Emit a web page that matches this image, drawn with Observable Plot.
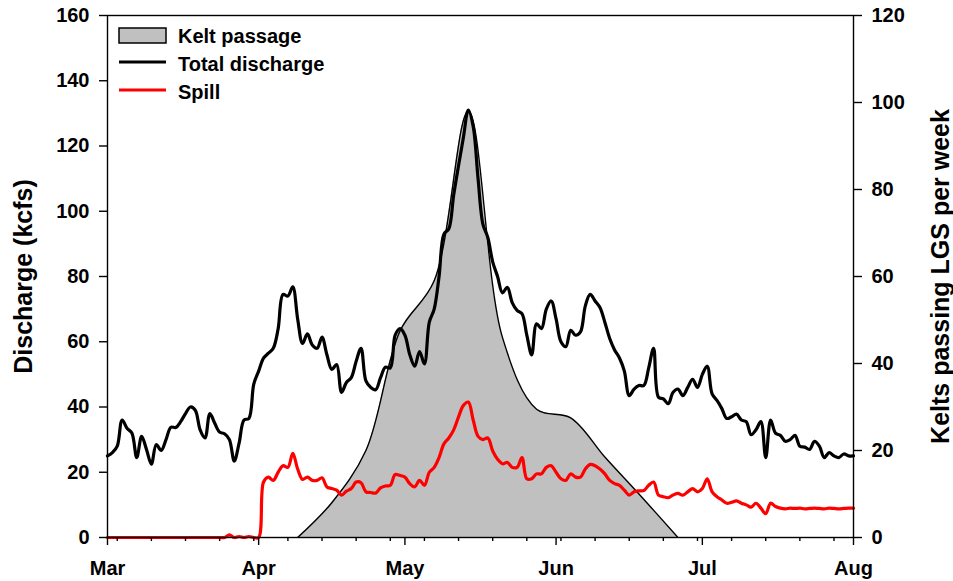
<!DOCTYPE html>
<html>
<head>
<meta charset="utf-8">
<script src="https://cdn.jsdelivr.net/npm/d3@7"></script>
<script src="https://cdn.jsdelivr.net/npm/@observablehq/plot@0.6"></script>
<style>
  html, body { margin: 0; padding: 0; background: #fff; }
  #wrap { position: relative; width: 953px; height: 581px; }
  #legend { position: absolute; left: 0; top: 0; pointer-events: none; }
  #legend text { font-family: "Liberation Sans", Arial, sans-serif; font-weight: bold; font-size: 20px; fill: #000; }
</style>
</head>
<body>
<div id="wrap">
  <div id="chart"></div>
  <svg id="legend" width="953" height="120">
    <rect x="119" y="28" width="47" height="15" fill="#c0c0c0" stroke="#000" stroke-width="1.5"></rect>
    <text x="178" y="43">Kelt passage</text>
    <line x1="119" x2="166" y1="62" y2="62" stroke="#000" stroke-width="3"></line>
    <text x="178" y="71">Total discharge</text>
    <line x1="119" x2="166" y1="90" y2="90" stroke="#ff0000" stroke-width="3"></line>
    <text x="178" y="99">Spill</text>
  </svg>
</div>
<script>
// ---- Data (daily values starting 1 March) ----
const startDate = "2012-03-01";

// Total discharge (kcfs)
const dischargeMar = [25, 26, 28, 36, 33.5, 32, 24.5, 31, 27, 22.5, 28.5, 26.7, 30, 33.8, 33.7, 35.5, 38, 40, 39, 33, 30.5, 38, 35, 32.3, 31.8, 30, 23.4, 29, 36, 36.5, 47];
const dischargeApr = [51, 55, 56.5, 58, 64, 74.5, 74, 76.8, 67, 59.5, 62.4, 59, 58, 61.4, 56, 51.5, 53, 44.5, 47.5, 49, 54, 58, 48, 46, 45.3, 49, 52.2, 52, 62, 64];
const dischargeMay = [62, 56, 52.5, 57, 53.2, 66, 70, 80, 93, 94.6, 105, 114, 122.7, 131, 126, 110, 96, 92, 84.5, 80, 75, 76.7, 72, 69.6, 68.6, 62, 56, 65.5, 64, 70, 72.5];
const dischargeJun = [67, 60, 58.5, 63.5, 62, 63, 71, 74.5, 72.5, 70.5, 66, 61, 57.5, 55, 51, 43.5, 45.5, 46.6, 46.6, 52, 58, 43, 42.5, 41, 44.5, 45.5, 43.5, 46, 48.5, 46];
const dischargeJulAug = [50, 52.5, 44, 42, 39.5, 36.5, 37, 37.8, 36, 35.5, 31.5, 33, 35.5, 24.5, 36, 32, 31.3, 29.5, 30, 31.3, 28, 27.7, 27, 29.5, 28, 24.5, 26, 25, 24.5, 25.6, 25, 25];

// Spill (kcfs)
const spillMar = [0, 0, 0, 0, 0, 0, 0, 0, 0, 0, 0, 0, 0, 0, 0, 0, 0, 0, 0, 0, 0, 0, 0, 0, 0, 0.8, 0, 0.3, 0, 0.3, 0];
const spillApr = [0, 17, 18.5, 17.5, 20, 22, 21.5, 25.8, 21, 17.8, 18.5, 17.5, 17.5, 18.3, 15.5, 15, 14.5, 13, 14.2, 15, 17, 16.8, 14, 13.8, 13.6, 15.2, 15.8, 16, 19.3, 19];
const spillMay = [18.5, 16.5, 15.5, 17.5, 16, 20, 21.5, 24.5, 28.7, 30.5, 33, 37, 40.5, 41.5, 36, 31, 30, 30.5, 26.5, 24, 22.6, 23, 21.5, 21.5, 24.5, 18, 18, 19.5, 19.5, 21.5, 22];
const spillJun = [20, 18, 17.5, 19.5, 18.5, 18.5, 21, 22.4, 22, 21, 19.5, 17.5, 16.5, 16, 14.5, 13, 14, 14.3, 14.4, 16, 17, 13, 12.5, 12.2, 13, 13.5, 13, 14, 15, 14];
const spillJulAug = [15, 18, 14, 12.5, 11.5, 10.5, 10.8, 11.2, 10.5, 10, 9.3, 10.5, 9, 7.3, 10.5, 9.5, 9, 8.8, 9, 8.9, 9, 8.8, 8.9, 9, 8.9, 8.8, 9, 8.9, 8.8, 8.9, 9, 9];

// Kelt passage (kelts per week)
const keltDates = ["2012-04-09", "2012-04-16", "2012-04-23", "2012-04-30", "2012-05-07", "2012-05-14", "2012-05-21", "2012-05-28", "2012-06-04", "2012-06-11", "2012-06-18", "2012-06-26"];
const keltValues = [0, 8, 20, 47.5, 59, 98, 46, 29.5, 27.5, 18.5, 10, 0];

// Axis ticks / labels
const dischargeTicks = [0, 20, 40, 60, 80, 100, 120, 140, 160];
const keltTicks = [0, 20, 40, 60, 80, 100, 120];
const monthLabels = ["Mar", "Apr", "May", "Jun", "Jul", "Aug"];
const monthTickDates = ["2012-03-01", "2012-04-01", "2012-05-01", "2012-06-01", "2012-07-01", "2012-08-01"];
const leftTitle = "Discharge (kcfs)";
const rightTitle = "Kelts passing LGS per week";

// ---- Build tables ----
const discharge = [].concat(dischargeMar, dischargeApr, dischargeMay, dischargeJun, dischargeJulAug);
const spill = [].concat(spillMar, spillApr, spillMay, spillJun, spillJulAug);
const t0 = new Date(startDate + "T00:00:00Z");
const dayDate = i => new Date(t0.getTime() + i * 864e5);
const daily = discharge.map((q, i) => ({date: dayDate(i), discharge: q, spill: spill[i]}));
const kelts = keltDates.map((d, i) => ({date: new Date(d + "T00:00:00Z"), kelts: keltValues[i]}));
const kScale = 160 / 120; // right axis -> left axis units
const monthTicks = monthTickDates.map(d => new Date(d + "T00:00:00Z"));
const minorTicks = d3.range(2, 153, 7).map(dayDate);

const chart = Plot.plot({
  width: 953,
  height: 581,
  marginLeft: 107,
  marginRight: 100,
  marginTop: 15,
  marginBottom: 44,
  style: {fontFamily: "'Liberation Sans', Arial, sans-serif", fontSize: "20px", fontWeight: "bold", color: "#000", background: "#fff"},
  x: {type: "utc", domain: [monthTicks[0], monthTicks[monthTicks.length - 1]]},
  y: {domain: [0, 160]},
  marks: [
    Plot.areaY(kelts, {x: "date", y: d => d.kelts * kScale, curve: "catmull-rom", fill: "#c0c0c0", clip: true}),
    Plot.lineY(kelts, {x: "date", y: d => d.kelts * kScale, curve: "catmull-rom", stroke: "#000", strokeWidth: 1.4, clip: true}),
    Plot.lineY(daily, {x: "date", y: "discharge", curve: "catmull-rom", stroke: "#000", strokeWidth: 3.2}),
    Plot.lineY(daily, {x: "date", y: "spill", curve: "catmull-rom", stroke: "#ff0000", strokeWidth: 3.2}),
    Plot.frame({stroke: "#000", strokeWidth: 1.4}),
    Plot.axisY({anchor: "left", ticks: dischargeTicks, tickSize: 8, tickPadding: 10, label: null, strokeWidth: 1.4}),
    Plot.axisY({anchor: "right", ticks: keltTicks.map(k => k * kScale), tickFormat: d => String(Math.round(d / kScale)), tickSize: 8, tickPadding: 10, label: null, strokeWidth: 1.4}),
    Plot.axisX({ticks: monthTicks, tickFormat: d => monthLabels[d.getUTCMonth() - 2], tickSize: 8, tickPadding: 15, label: null, strokeWidth: 1.4}),
    Plot.axisX({ticks: minorTicks, tickFormat: () => "", tickSize: 4, label: null, strokeWidth: 1.4}),
    Plot.text([leftTitle], {frameAnchor: "left", dx: -84, rotate: -90, textAnchor: "middle", lineAnchor: "middle", fontSize: 25, fontWeight: "bold"}),
    Plot.text([rightTitle], {frameAnchor: "right", dx: 87, rotate: -90, textAnchor: "middle", lineAnchor: "middle", fontSize: 25, fontWeight: "bold"})
  ]
});
document.getElementById("chart").appendChild(chart);
</script>
</body>
</html>
